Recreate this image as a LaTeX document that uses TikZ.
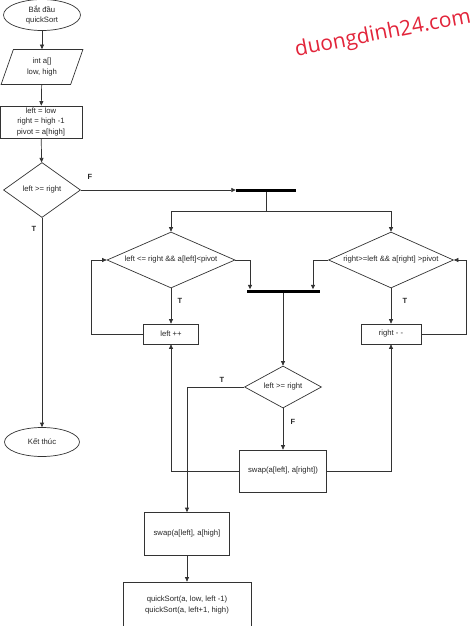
\documentclass[tikz,border=0pt]{standalone}
\usepackage{fontspec}
\setmainfont{Liberation Sans}
\newfontfamily\markfont{Open Sans}
\usetikzlibrary{shapes.geometric,arrows.meta}
\definecolor{markred}{RGB}{226,36,58}
\begin{document}
\begin{tikzpicture}[x=1pt,y=-1pt,
  every node/.style={font=\fontsize{7.7}{10.5}\selectfont, align=center, text=black!85},
  line/.style={draw=black!80, line width=0.7pt},
  arrow/.style={line, -{Triangle[length=4.5pt,width=4pt]}},
  terminal/.style={line, ellipse, inner sep=0pt},
  box/.style={line, rectangle, inner sep=0pt},
  decision/.style={line, diamond, aspect=2, inner sep=0pt},
  io/.style={line, trapezium, trapezium left angle=70, trapezium right angle=110,
    trapezium stretches=true, inner sep=0pt},
  bar/.style={fill=black, inner sep=0pt, minimum height=3pt},
  lbl/.style={font=\bfseries\fontsize{7.5}{8}\selectfont}]
  \useasboundingbox (0,0) rectangle (474,626);
  \clip (0,0) rectangle (474,626);
  % left column
  \node(start)[terminal, minimum width=77pt, minimum height=31pt] at(42,15) {Bắt đầu\\quickSort};
  \node(input)[io, minimum width=82pt, minimum height=35pt] at(42,67) {int a[]\\low, high};
  \node(init)[box, minimum width=82pt, minimum height=32pt] at(41,122) {left = low\\right = high -1\\pivot = a[high]};
  \node(cond1)[decision, minimum width=77pt, minimum height=55pt] at(42,190) {left >= right};
  \node(end)[terminal, minimum width=75pt, minimum height=29pt] at(42,442) {Kết thúc};
  % the two scans
  \node(bar1)[bar, minimum width=60pt] at(266,190) {};
  \node(condL)[decision, aspect=2.4, minimum width=128pt, minimum height=56pt] at(171,260) {left <= right \&\& a[left]<pivot};
  \node(condR)[decision, aspect=2.4, minimum width=125pt, minimum height=56pt] at(391,260) {right>=left \&\& a[right] >pivot};
  \node(incL)[box, minimum width=55pt, minimum height=20pt] at(171,334) {left ++};
  \node(decR)[box, minimum width=60pt, minimum height=20pt] at(391,334) {right - -};
  \node(bar2)[bar, minimum width=73pt] at(283,291) {};
  % swap part
  \node(cond2)[decision, minimum width=77pt, minimum height=42pt] at(283,387) {left >= right};
  \node(swapLR)[box, minimum width=87pt, minimum height=42pt] at(283,471) {swap(a[left], a[right])};
  \node(swapH)[box, minimum width=85pt, minimum height=43pt] at(187,534) {swap(a[left], a[high]};
  \node(rec)[box, minimum width=128pt, minimum height=46pt] at(187,605) {quickSort(a, low, left -1)\\quickSort(a, left+1, high)};
  \node(mark)[rotate=11, font=\markfont\fontsize{21}{22}\selectfont, text=markred] at(383,34) {duongdinh24.com};
  \foreach \a/\b in {start/input,input/init,init/cond1,cond1/end,cond1/bar1,bar2/cond2,cond2/swapLR,swapH/rec}{%
    \draw[arrow](\a)--(\b);
  }
  \coordinate(split) at(266,211);
  \draw[line](bar1)--(split);
  \draw[arrow](split)-|(condL.north);
  \draw[arrow](split)-|(condR.north);
  \draw[arrow](condL.east)-|([xshift=-33pt]bar2.north);
  \draw[arrow](condR.west)-|([xshift=30pt]bar2.north);
  \draw[arrow](condL.south)--(incL.north);
  \draw[arrow](condR.south)--(decR.north);
  % loops back
  \draw[arrow](incL.west)--++(-52,0)|-(condL.west);
  \draw[arrow](decR.east)--++(45,0)|-(condR.east);
  \draw[arrow](cond2.west)-|(swapH.north);
  \draw[arrow](swapLR.west)-|(incL.south);
  \draw[arrow](swapLR.east)-|(decR.south);
  % labels
  \node(lblF1)[lbl] at(90,177) {F};
  \node(lblT1)[lbl] at(34,229) {T};
  \node(lblT2)[lbl] at(180,301) {T};
  \node(lblT3)[lbl] at(405,301) {T};
  \node(lblT4)[lbl] at(222,380) {T};
  \node(lblF2)[lbl] at(293,422) {F};
\end{tikzpicture}
\end{document}
